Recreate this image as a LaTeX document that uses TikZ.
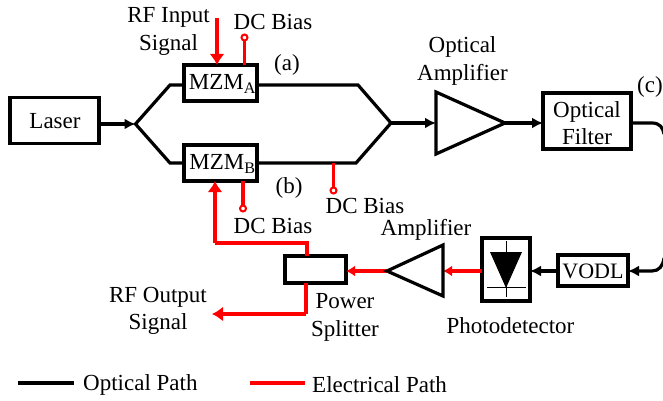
\documentclass[tikz,border=0pt]{standalone}
\usepackage{fontspec}
\setmainfont{Liberation Serif}
\usetikzlibrary{arrows.meta}
\definecolor{elec}{RGB}{255,0,0}
\tikzset{
  x=1pt,y=-1pt,
  blockbox/.style={draw=black,line width=3.4pt,fill=white,minimum width=#1,inner sep=0pt,outer sep=0pt},
  blockbox/.default=40pt,
  lbl/.style={font=\fontsize{23pt}{27.5pt}\selectfont,inner sep=0pt,align=center,text=black},
  opt/.style={draw=black,line width=3.2pt,line join=miter},
  optarrow/.style={opt,-{Latex[length=11pt,width=11pt]}},
  elecline/.style={draw=elec,line width=3.2pt},
  elecarrow/.style={elecline,-{Latex[length=11pt,width=15pt]}},
  biasdot/.style={circle,draw=elec,line width=2pt,fill=white,minimum size=6pt,inner sep=0pt,outer sep=0pt},
}
\begin{document}
\begin{tikzpicture}
\useasboundingbox (0,0) rectangle (663,401);
% optical splitter paths
\coordinate (split) at (135.5,124);
\coordinate (combine) at (391,123);
\coordinate (ct) at (170,85);
\coordinate (cb) at (170,163);
\coordinate (dt) at (358,85);
\coordinate (db) at (356,163);
\node[blockbox,minimum width=89pt,minimum height=46pt] (laser) at (54.5,120.5) {};
\node[lbl] at (55,121) {Laser};
\draw[opt] (split) -- (ct) -- (dt) -- (combine) -- (db) -- (cb) -- cycle;
\node[blockbox,minimum width=73pt,minimum height=36pt] (mzma) at (220.5,83) {};
\node[blockbox,minimum width=73pt,minimum height=36pt] (mzmb) at (220.5,163) {};
\node[lbl] at (222.5,84) {MZM\textsubscript{A}};
\node[lbl] at (222.5,164) {MZM\textsubscript{B}};
\draw[optarrow] (laser.east |- split) -- (split);
% amplifier
\coordinate (a1) at (436,92);
\coordinate (a2) at (436,154);
\coordinate (a3) at (505,123);
\draw[opt] (a1) -- (a3) -- (a2) -- cycle;
\draw[optarrow] (combine) -- (a1 |- combine);
\node[blockbox,minimum width=88pt,minimum height=56pt] (filter) at (587,121) {};
\node[lbl] at (587,123) {Optical\\Filter};
\draw[optarrow] (a3) -- (filter.west |- a3);
% VODL and photodetector
\node[blockbox,minimum width=70pt,minimum height=31pt] (vodl) at (593,270.5) {};
\node[lbl,font=\fontsize{22pt}{25pt}\selectfont] at (593,271) {VODL};
\node[blockbox,minimum width=48pt,minimum height=63pt] (pd) at (506,269.5) {};
\coordinate (cr) at (668,123);
\coordinate (crb) at (668,271);
\draw[opt] (filter.east |- cr) -- (652,123) .. controls (660,123) and (663,128) .. (664,134);
\draw[optarrow] (664,258) .. controls (663,266) and (659,271) .. (652,271) -- (vodl.east |- crb);
\draw[optarrow] (vodl.west |- crb) -- (pd.east |- crb);
\fill (490,252) -- (522,252) -- (506,288) -- cycle;
\draw[line width=1pt] (506,241) -- (506,297);
\draw[line width=1pt] (487,287) -- (526,287);
% electrical amplifier and splitter
\coordinate (e1) at (387,271);
\coordinate (e2) at (443,245);
\coordinate (e3) at (443,296);
\node[blockbox,minimum width=61pt,minimum height=27pt] (ps) at (315.5,269.5) {};
\draw[elecarrow,-{Latex[length=9pt,width=11pt]}] (pd.west |- e1) -- (e3 |- e1);
\draw[elecarrow,-{Latex[length=9pt,width=11pt]}] (e1) -- (ps.east |- e1);
\draw[opt] (e2) -- (e1) -- (e3) -- cycle;
\coordinate (s1) at (307,243);
\coordinate (s2) at (215,243);
\coordinate (s3) at (306,314);
\coordinate (rfout) at (212,314);
\draw[elecline] (ps.north -| s1) -- (s1) -- (s2);
\draw[elecarrow] (s2) -- (mzmb.south -| s2);
\draw[elecline] (ps.south -| s3) -- (s3);
\draw[elecarrow] (s3) -- (rfout);
\coordinate (rfin) at (217,18);
\draw[elecarrow] (rfin) -- (mzma.north -| rfin);
% DC bias
\node[biasdot] (ba) at (244.5,37.5) {};
\node[biasdot] (bb) at (243,208.5) {};
\node[biasdot] (bc) at (333.5,190.5) {};
\draw[elecline] (ba) -- (mzma.north -| ba);
\draw[elecline] (bb) -- (mzmb.south -| bb);
\coordinate (bcl) at (333.5,163);
\draw[elecline] (bc) -- (bcl);
% labels
\node[lbl] at (168.5,31.5) {RF Input\\Signal};
\node[lbl] at (273,22) {DC Bias};
\node[lbl] at (287,65) {(a)};
\node[lbl] at (289,188) {(b)};
\node[lbl] at (273,226) {DC Bias};
\node[lbl] at (365,206) {DC Bias};
\node[lbl] at (462.5,61) {Optical\\Amplifier};
\node[lbl] at (650,87) {(c)};
\node[lbl] at (426,230) {Amplifier};
\node[lbl] at (510.5,326) {Photodetector};
\node[lbl] at (158,311) {RF Output\\Signal};
\node[lbl] at (345,317.5) {Power\\Splitter};
% legend
\coordinate (l1) at (18,383);
\coordinate (l2) at (74,383);
\coordinate (l3) at (250,383);
\coordinate (l4) at (305,383);
\draw[opt] (l1) -- (l2);
\draw[elecline] (l3) -- (l4);
\node[lbl,anchor=west] at (83,385) {Optical Path};
\node[lbl,anchor=west] at (312,385) {Electrical Path};
\end{tikzpicture}
\end{document}
